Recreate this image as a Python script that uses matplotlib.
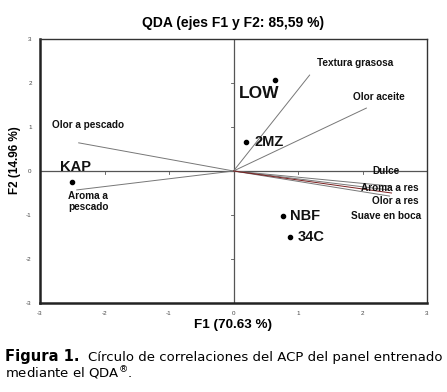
import matplotlib.pyplot as plt

# sample scores (F1, F2)
samples = ["LOW", "2MZ", "KAP", "NBF", "34C"]
sample_f1 = [0.64, 0.20, -2.50, 0.76, 0.87]
sample_f2 = [2.07, 0.66, -0.25, -1.02, -1.50]

# attribute vectors (F1, F2)
attributes = ["Textura grasosa", "Olor aceite", "Olor a pescado", "Aroma a\npescado",
              "Dulce", "Suave en boca", "Olor a res", "Aroma a res"]
attr_f1 = [1.18, 2.06, -2.40, -2.43, 2.42, 2.40, 2.42, 2.45]
attr_f2 = [2.18, 1.43, 0.64, -0.43, -0.34, -0.43, -0.57, -0.50]

# label anchor positions for attributes
attr_lab_x = [1.88, 2.26, -2.26, -2.25, 2.36, 2.37, 2.51, 2.43]
attr_lab_y = [2.45, 1.68, 1.05, -0.70, 0.00, -1.02, -0.68, -0.39]

ticks = [-3, -2, -1, 0, 1, 2, 3]

plt.rcParams["font.family"] = ["Liberation Sans", "DejaVu Sans"]

fig = plt.figure(figsize=(4.47, 3.92), dpi=100)
ax = fig.add_axes([40 / 447, 89 / 392, 387 / 447, 264 / 392])

ax.set_xlim(-3, 3)
ax.set_ylim(-3, 3)

ax.axhline(0, color="#555555", lw=0.9, zorder=1)
ax.axvline(0, color="#555555", lw=0.9, zorder=1)
# small ticks on the centre axes
for t in ticks:
    if t in (-3, 0, 3):
        continue
    ax.plot([-0.04, 0], [t, t], color="#555555", lw=0.6)
    ax.plot([t, t], [-0.06, 0], color="#555555", lw=0.6)

for i, name in enumerate(attributes):
    col = "#7a1f1f" if name == "Aroma a res" else "#777777"
    ax.plot([0, attr_f1[i]], [0, attr_f2[i]], color=col, lw=0.7, zorder=2)
    ax.text(attr_lab_x[i], attr_lab_y[i], name, ha="center", va="center",
            fontsize=7.2, fontweight="bold", color="#111111", zorder=4,
            linespacing=1.1)

ax.scatter(sample_f1, sample_f2, s=9, color="black", zorder=3)
lab_off = {"LOW": (-0.25, -0.30, "center", 12.5), "2MZ": (0.12, 0.0, "left", 10.5),
           "KAP": (0.05, 0.33, "center", 10.5), "NBF": (0.12, 0.0, "left", 10.5),
           "34C": (0.12, 0.0, "left", 10.5)}
for s, x, y in zip(samples, sample_f1, sample_f2):
    dx, dy, ha, fs = lab_off[s]
    ax.text(x + dx, y + dy, s, ha=ha, va="center", fontsize=fs,
            fontweight="bold", color="#111111")

ax.set_xticks(ticks)
ax.set_yticks(ticks)
ax.set_xticklabels([str(t) for t in ticks])
ax.set_yticklabels([str(t) for t in ticks])
ax.tick_params(length=0, labelsize=4.5, labelcolor="#444444", pad=6)

for side in ["left", "bottom"]:
    ax.spines[side].set_linewidth(1.8)
    ax.spines[side].set_color("#222222")
for side in ["top", "right"]:
    ax.spines[side].set_linewidth(1.0)
    ax.spines[side].set_color("#333333")

fig.text(233 / 447, 1 - 23 / 392, "QDA (ejes F1 y F2: 85,59 %)", fontsize=10,
         fontweight="bold", ha="center", va="center")
fig.text(233 / 447, 1 - 325 / 392, "F1 (70.63 %)", fontsize=9.7,
         fontweight="bold", ha="center", va="center")
fig.text(15 / 447, 1 - 160 / 392, "F2 (14.96 %)", fontsize=8.5, rotation=90,
         fontweight="bold", ha="center", va="center")

fig.text(5 / 447, 1 - 357 / 392, "Figura 1.", fontsize=10.6, fontweight="bold",
         family="DejaVu Sans", va="center")
fig.text(88 / 447, 1 - 357 / 392, "Círculo de correlaciones del ACP del panel entrenado",
         fontsize=9.5, family="DejaVu Sans", va="center")
fig.text(5 / 447, 1 - 373 / 392, r"mediante el QDA$^{\circledR}$.",
         fontsize=9.5, family="DejaVu Sans", va="center")

fig.savefig("out.png", dpi=100)
